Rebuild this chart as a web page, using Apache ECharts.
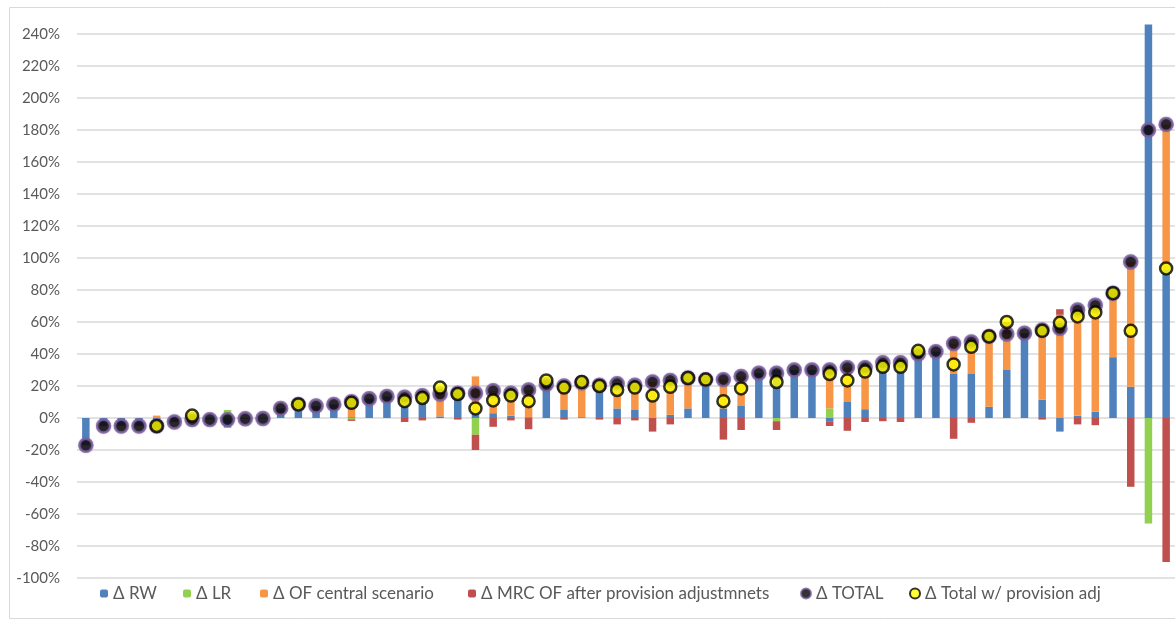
<!DOCTYPE html>
<html>
<head>
<meta charset="utf-8">
<script src="https://cdn.jsdelivr.net/npm/echarts@6/dist/echarts.min.js"></script>
<style>
  html, body { margin: 0; padding: 0; background: #ffffff; }
  #chart { width: 1175px; height: 619px; }
</style>
</head>
<body>
<div id="chart"></div>
<script>
// Institutions, sorted by total change (values in %)
const categories = Array.from({ length: 62 }, (_, i) => 'Bank ' + (i + 1));

const deltaRW = [-17, -5, -5, -5, -6.5, -2.5, -1, -1, -6, -0.5,
  -0.3, 6, 8.5, 7.5, 8.5, 0.5, 12, 13.5, 13, 14,
  1, 15.5, 3, 3, 1.5, 0.5, 21, 5, 0.5, 19,
  6, 5, 0, 2, 6, 24, 6, 7.5, 28, 30,
  30, 30, -2, 10, 5.5, 34.5, 34.5, 40, 41.5, 27.5,
  27.5, 7, 30, 53, 11.5, -8.5, 1.5, 4, 38, 19.5,
  246, 93];

const deltaLR = [0, 0, 0, 0, 0, 0, 0, 0, 5, 0,
  0, 0, 0, 0, 0, -0.8, 0, 0, 0, 0,
  0, 0, -10.5, 0, 0, 0, 0, 0, 0, 0,
  0, 0, 0, 0, 0, 0, 0, 0, 0, -2,
  0, 0, 6, 0, 0, 0, 0, 0, 0, 0,
  0, 0, 0, 0, 0, 0, 0, 0, 0, 0,
  -66, 0];

const deltaOF = [0, 0, 0, 0, 1.5, 0, 0, 0, 0, 0,
  0, 0, 0, 0, 0, 10.5, 0, 0, 0, 0,
  14, 0, 23, 14, 14, 17, 0, 15, 21.5, 1.5,
  15.5, 15.5, 22.5, 21.5, 19, 0, 18, 18.5, 0, 0,
  0, 0, 26, 21.5, 26, 0, 0, 0, 0, 19,
  20, 44, 22.5, 0, 43.5, 64.5, 66, 66.5, 40, 78,
  0, 90.5];

const deltaMRC = [0, 0, 0, 0, 0, 0, 2.5, 0, 0, 0,
  0, 0, 0, 0, 0, -1, 0, 0, -2.5, -1.5,
  4, -1, -9.5, -5.5, -1.5, -7, 2.5, -1, 0.5, -1,
  -4, -1.5, -8.5, -4, 0, 0, -13.5, -7.5, 0, -5.5,
  0, 0, -3, -8, -2.5, -2, -2.5, 2, 0, -13,
  -3, 0, 7.5, 0, -1, 3.5, -4, -4.5, 0, -43,
  0, -90];

const deltaTotal = [-17, -5, -5, -5, -5, -2.5, -1, -1, -1, -0.5,
  -0.3, 6, 8.5, 7.5, 8.5, 10.2, 12, 13.5, 13, 14,
  15, 15.5, 15.5, 17, 15.5, 17.5, 21, 20, 22, 20.5,
  21.5, 20.5, 22.5, 23.5, 25, 24, 24, 26, 28, 28,
  30, 30, 30, 31.5, 31.5, 34.5, 34.5, 40, 41.5, 46.5,
  47.5, 51, 52.5, 53, 55, 56, 67.5, 70.5, 78, 97.5,
  180, 183.5];

const deltaTotalProv = [null, null, null, null, -5, null, 1.5, null, null, null,
  null, null, 8.5, null, null, 9.5, null, null, 10.5, 12.5,
  19, 15, 6, 11, 14, 10.5, 23.5, 19, 22.5, 20,
  17.5, 19, 14, 19.5, 25, 24, 10.5, 18.5, null, 22.5,
  null, null, 27.5, 23.5, 29, 32, 32, 42, null, 33.5,
  44.5, 51, 60, null, 54.5, 59.5, 63.5, 66, 78, 54.5,
  null, 93.5];

const yTicks = { min: -100, max: 250, step: 20 };

const FONT = 'Lato, "Noto Sans", sans-serif';
const TEXT = '#595959';

const chart = echarts.init(document.getElementById('chart'), null, { renderer: 'canvas' });

function barSeries(name, data, color) {
  return {
    name, type: 'bar', stack: 'delta', data,
    barWidth: 7.5,
    itemStyle: { color },
    emphasis: { disabled: true }
  };
}

function legendAt(name, left, size) {
  return {
    data: [name], left, top: 580,
    itemWidth: size, itemHeight: size, itemGap: 0,
    textStyle: { fontFamily: FONT, fontSize: 17, color: TEXT },
    selectedMode: false
  };
}

chart.setOption({
  animation: false,
  backgroundColor: '#ffffff',
  textStyle: { fontFamily: FONT },
  graphic: [{
    type: 'rect', left: 7, top: 5, silent: true,
    shape: { width: 1200, height: 611 },
    style: { fill: 'none', stroke: '#d9d9d9', lineWidth: 1 }
  }],
  grid: { left: 77, right: -3, top: 18, bottom: 41, containLabel: false },
  legend: [
    legendAt('Δ RW', 95, 8),
    legendAt('Δ LR', 178, 8),
    legendAt('Δ OF central scenario', 255, 8),
    legendAt('Δ MRC OF after provision adjustmnets', 463, 8),
    legendAt('Δ TOTAL', 795, 10),
    legendAt('Δ Total w/ provision adj', 904, 10)
  ],
  xAxis: {
    type: 'category', data: categories,
    axisLine: { show: false }, axisTick: { show: false }, axisLabel: { show: false },
    splitLine: { show: false }
  },
  yAxis: {
    type: 'value', min: yTicks.min, max: yTicks.max, interval: yTicks.step,
    axisLine: { show: false }, axisTick: { show: false },
    axisLabel: {
      formatter: v => v + '%', color: TEXT, fontSize: 15, fontFamily: FONT,
      margin: 17, showMaxLabel: false
    },
    splitLine: { show: true, showMaxLine: false, lineStyle: { color: '#d9d9d9', width: 1.5 } }
  },
  series: [
    barSeries('Δ RW', deltaRW, '#4f81bd'),
    barSeries('Δ LR', deltaLR, '#92d050'),
    barSeries('Δ OF central scenario', deltaOF, '#f79646'),
    barSeries('Δ MRC OF after provision adjustmnets', deltaMRC, '#c0504d'),
    {
      name: 'Δ TOTAL', type: 'scatter', data: deltaTotal,
      symbol: 'circle', symbolSize: 13, z: 5,
      itemStyle: {
        color: '#000000', borderColor: '#7d60a0', borderWidth: 2.4,
        shadowBlur: 1.5, shadowColor: 'rgba(128,100,162,0.6)'
      },
      emphasis: { disabled: true }
    },
    {
      name: 'Δ Total w/ provision adj', type: 'scatter', data: deltaTotalProv,
      symbol: 'circle', symbolSize: 12, z: 6,
      itemStyle: { color: '#ffff00', borderColor: '#000000', borderWidth: 2.5 },
      emphasis: { disabled: true }
    }
  ]
});
</script>
</body>
</html>
